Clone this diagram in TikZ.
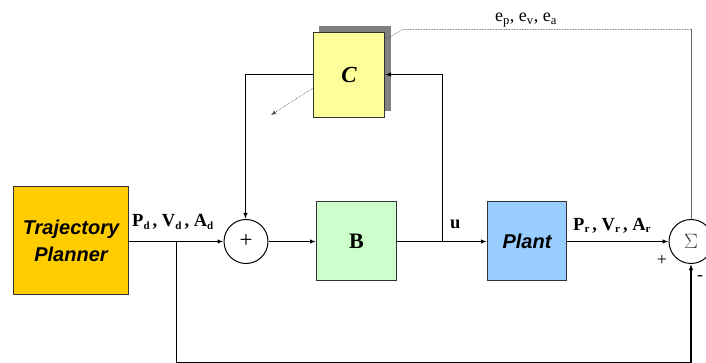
\documentclass[tikz,border=0pt]{standalone}
\usepackage{fontspec}
\setmainfont{Liberation Serif}
\setsansfont{Liberation Sans}
\usetikzlibrary{arrows.meta}
\newcommand{\mysub}[1]{\raisebox{-2.5pt}{\fontsize{11}{11}\selectfont #1}}
\begin{document}
\begin{tikzpicture}[x=1pt,y=-1pt,
  blk/.style={draw=black!80,line width=1pt,inner sep=0pt,anchor=north west},
  ln/.style={line width=1.3pt,draw=black},
  arr/.style={ln,-{Latex[length=6pt,width=4.5pt]}},
  dot/.style={draw=black!70,line width=0.6pt,densely dotted},
  lab/.style={font=\fontsize{18.5}{18.5}\selectfont\bfseries,inner sep=0pt}
]
\useasboundingbox (0,0) rectangle (706,363);
% blocks
\node[blk,fill={rgb,255:red,255;green,204;blue,0},minimum width=115pt,minimum height=108pt,
  align=center,font=\sffamily\bfseries\itshape\fontsize{20}{27}\selectfont] (tp) at (13,186) {Trajectory\\Planner};
\fill[black!50] (319,26) rectangle (391,111);
\node[blk,fill={rgb,255:red,255;green,255;blue,153},minimum width=71pt,minimum height=85pt,
  font=\bfseries\itshape\fontsize{23}{23}\selectfont] (c) at (313,32) {C};
\node[blk,fill={rgb,255:red,204;green,255;blue,204},minimum width=80pt,minimum height=79pt,
  font=\bfseries\fontsize{22}{22}\selectfont] (b) at (316,201) {B};
\node[blk,fill={rgb,255:red,153;green,204;blue,255},minimum width=79pt,minimum height=79pt,
  font=\sffamily\bfseries\itshape\fontsize{20}{20}\selectfont] (pl) at (487,201) {Plant};
\node[draw,circle,line width=1pt,minimum size=44pt,inner sep=0pt,font=\fontsize{23}{23}\selectfont] (s1) at (246,241.5) {+};
\node[draw,circle,line width=1pt,minimum size=44pt,inner sep=0pt,font=\fontsize{22}{22}\selectfont,text=black!75] (s2) at (691,241.5) {$\Sigma$};
% labels
\node[lab,anchor=base west] (ld) at (132,227) {P\mysub{d}\,, V\mysub{d}\,, A\mysub{d}};
\node[lab,anchor=base west] (lr) at (573,230) {P\mysub{r}\,, V\mysub{r}\,, A\mysub{r}};
\node[lab,anchor=base west] (lu) at (450,229) {u};
\node[inner sep=0pt,anchor=base west,font=\fontsize{18}{18}\selectfont] (le) at (495,22) {e\textsubscript{p}, e\textsubscript{v}, e\textsubscript{a}};
\node[inner sep=0pt,font=\fontsize{18}{18}\selectfont] (pls) at (662,260) {+};
\node[inner sep=0pt,font=\fontsize{18}{18}\selectfont] (mns) at (700,278) {-};
% coordinates
\coordinate (j1) at (176.5,241.5);
\coordinate (j2) at (442.5,241.5);
\coordinate (k1) at (176.5,362.9);
\coordinate (k2) at (691,362.9);
\coordinate (cu) at (442.5,74.5);
\coordinate (cl) at (245.5,74.5);
\coordinate (d1) at (384,40);
\coordinate (d2) at (403,29.5);
\coordinate (d3) at (691,29.5);
\coordinate (d4) at (313,88);
\coordinate (d5) at (271,115);
% connectors
\draw[arr] (tp.east |- j1) -- (s1.west);
\draw[arr] (s1.east) -- (b.west |- s1.east);
\draw[arr] (b.east |- j2) -- (pl.west |- j2);
\draw[arr] (pl.east |- s2.west) -- (s2.west);
\draw[arr] (j2) -- (cu) -- (c.east |- cu);
\draw[arr] (c.west |- cl) -- (cl) -- (cl |- s1.north);
\draw[ln] (j1) -- (k1) -- (k2);
\draw[arr] (k2) -- (s2.south);
\draw[dot] (d1) -- (d2) -- (d3);
\draw[draw=black!60,line width=0.8pt] (d3) -- (s2.north);
\draw[dot,-{Latex[length=5pt,width=4pt]}] (d4) -- (d5);
\end{tikzpicture}
\end{document}
